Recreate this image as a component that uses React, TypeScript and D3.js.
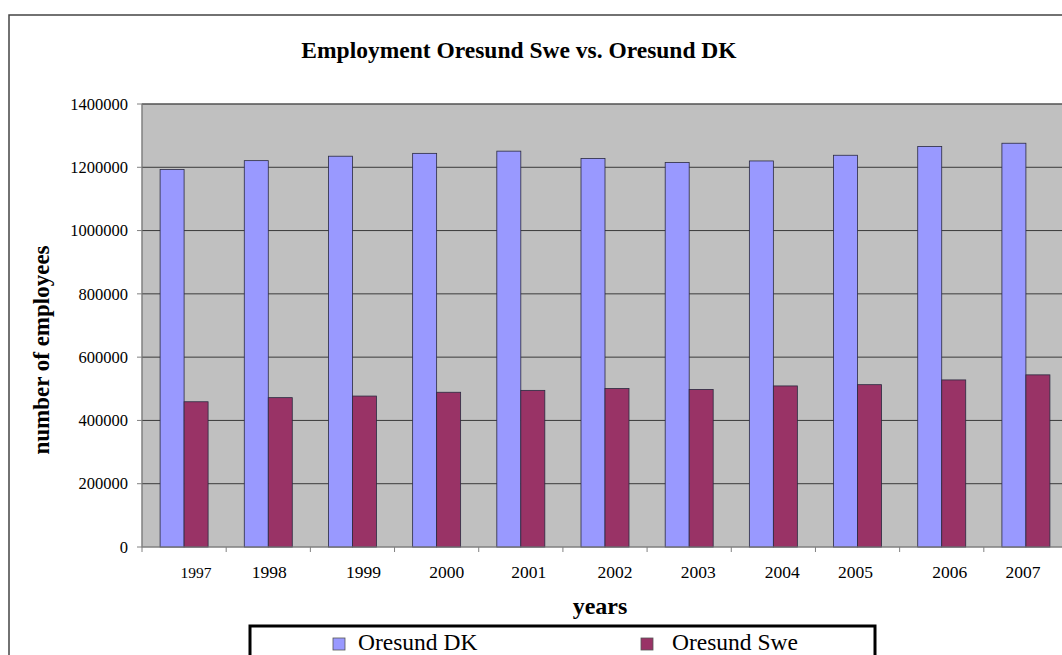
import React from "react";
import * as d3 from "d3";

const years = ["1997", "1998", "1999", "2000", "2001", "2002", "2003", "2004", "2005", "2006", "2007"];
const oresundDK = [1193000, 1221000, 1235000, 1244000, 1251000, 1228000, 1215000, 1220000, 1238000, 1266000, 1276000];
const oresundSwe = [459000, 472000, 477000, 489000, 495000, 501000, 498000, 509000, 513000, 528000, 544000];
const yTicks = [0, 200000, 400000, 600000, 800000, 1000000, 1200000, 1400000];
const seriesNames = ["Oresund DK", "Oresund Swe"];
const seriesColors = ["#9999ff", "#993366"];

// layout only: small horizontal nudges of the category labels, as in the original
const tickLabelNudge = [12, 1, 11, 10, 8, 10, 9, 9, -2, 8, -3];

const W = 1062;
const H = 655;
const plot = { left: 142, top: 104, right: 1068, bottom: 547 };
const FONT = "'Liberation Serif', 'Times New Roman', serif";

export default function App() {
  const x = d3.scaleBand<string>().domain(years).range([plot.left, plot.right]).paddingInner(0).paddingOuter(0);
  const xs = d3.scaleBand<string>().domain(seriesNames).range([0, x.bandwidth()]).paddingInner(0).paddingOuter(0.754);
  const y = d3.scaleLinear().domain([0, 1400000]).range([plot.bottom, plot.top]);
  const series = [oresundDK, oresundSwe];

  return (
    <svg width={W} height={H} style={{ position: "absolute", left: 0, top: 0, background: "#fff" }} fontFamily={FONT}>
      <rect x={0} y={0} width={W} height={H} fill="#fff" />
      {/* chart border */}
      <rect x={9} y={15} width={1200} height={800} fill="#fff" stroke="#444" strokeWidth={1.5} />
      {/* title */}
      <text x={519} y={58} textAnchor="middle" fontWeight="bold" fontSize={23.5} fill="#000">
        Employment Oresund Swe vs. Oresund DK
      </text>
      {/* plot area */}
      <rect x={plot.left} y={plot.top} width={plot.right - plot.left} height={plot.bottom - plot.top} fill="#c0c0c0" stroke="#808080" strokeWidth={1} />
      {/* gridlines */}
      {yTicks.filter((t) => t > 0).map((t) => (
        <line key={t} x1={plot.left} x2={plot.right} y1={y(t)} y2={y(t)} stroke="#3a3a3a" strokeWidth={1} />
      ))}
      {/* bars */}
      {series.map((vals, si) =>
        years.map((yr, i) => (
          <rect
            key={si + "-" + yr}
            x={(x(yr) as number) + (xs(seriesNames[si]) as number)}
            y={y(vals[i])}
            width={xs.bandwidth()}
            height={plot.bottom - y(vals[i])}
            fill={seriesColors[si]}
            stroke="#2a2a40"
            strokeWidth={0.8}
          />
        ))
      )}
      {/* y axis */}
      <line x1={plot.left} x2={plot.left} y1={plot.top} y2={plot.bottom} stroke="#808080" strokeWidth={1} />
      {yTicks.map((t) => (
        <g key={"yt" + t}>
          <line x1={plot.left - 5} x2={plot.left} y1={y(t)} y2={y(t)} stroke="#808080" />
          <text x={128} y={y(t)} dy="0.35em" textAnchor="end" fontSize={16.5} fill="#000">
            {t}
          </text>
        </g>
      ))}
      {/* x axis */}
      <line x1={plot.left} x2={plot.right} y1={plot.bottom} y2={plot.bottom} stroke="#808080" strokeWidth={1} />
      {years.map((yr) => (
        <line key={"xt" + yr} x1={x(yr) as number} x2={x(yr) as number} y1={plot.bottom} y2={plot.bottom + 5} stroke="#808080" />
      ))}
      {years.map((yr, i) => (
        <text
          key={"xl" + yr}
          x={(x(yr) as number) + x.bandwidth() / 2 + tickLabelNudge[i]}
          y={578}
          textAnchor="middle"
          fontSize={i === 0 ? 15.5 : 17.5}
          fill="#000"
        >
          {yr}
        </text>
      ))}
      {/* axis titles */}
      <text x={600} y={614} textAnchor="middle" fontWeight="bold" fontSize={24} fill="#000">
        years
      </text>
      <text
        transform={`translate(49, 350) rotate(-90)`}
        textAnchor="middle"
        fontWeight="bold"
        fontSize={23}
        fill="#000"
      >
        number of employees
      </text>
      {/* legend */}
      <rect x={250} y={626} width={625} height={60} fill="#fff" stroke="#000" strokeWidth={3} />
      {seriesNames.map((name, si) => {
        const lx = si === 0 ? 333 : 641;
        return (
          <g key={"lg" + name}>
            <rect x={lx} y={638} width={12} height={12} fill={seriesColors[si]} stroke="#555" strokeWidth={0.8} />
            <text x={lx + (si === 0 ? 25 : 31)} y={650} fontSize={23.5} fill="#000">
              {name}
            </text>
          </g>
        );
      })}
    </svg>
  );
}
